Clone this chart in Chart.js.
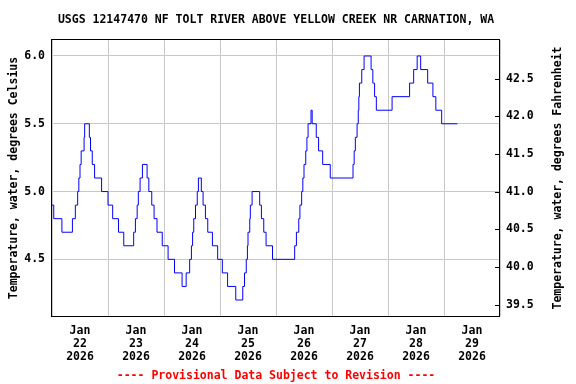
<!DOCTYPE html>
<html>
<head>
<meta charset="utf-8">
<script src="https://cdn.jsdelivr.net/npm/chart.js@4/dist/chart.umd.min.js"></script>
<style>
  body { margin: 0; background: #fff; }
</style>
</head>
<body>
<canvas id="chart" width="576" height="384"></canvas>
<script>
// Titles and labels
const chartTitle = "USGS 12147470 NF TOLT RIVER ABOVE YELLOW CREEK NR CARNATION, WA";
const leftTitle = "Temperature, water, degrees Celsius";
const rightTitle = "Temperature, water, degrees Fahrenheit";
const footer = "---- Provisional Data Subject to Revision ----";
const month = "Jan";
const year = "2026";
const dayLabels = ["22", "23", "24", "25", "26", "27", "28", "29"];

// Axis ticks
const celsiusTicks = [4.5, 5.0, 5.5, 6.0];
const fahrenheitTicks = [39.5, 40.0, 40.5, 41.0, 41.5, 42.0, 42.5];
const celsiusMin = 4.082;
const celsiusMax = 6.118;

// Series: hours since Jan 22 00:00 where the reading changes, and the new reading (deg C)
const hours = [
  0, 0.75, 4.25, 8.75, 10, 11, 11.5, 12, 12.5, 13.75, 14, 16, 16.5, 17.25, 18.25, 21.25,
  24, 26, 28.5, 30.75, 35, 35.75, 36.5, 37, 37.75, 38.75, 40.75, 41.5, 42.75, 43.75, 45, 47.25,
  49.75, 52.5, 55.75, 57.5, 59, 59.75, 60.25, 60.75, 61.5, 62.25, 62.75, 64, 64.75, 65.75, 66.75, 68.75,
  71, 73, 75.25, 78.75, 81.75, 82.5, 83.25, 83.75, 84, 84.75, 85, 85.75, 89, 89.75, 90.75, 91.75,
  94.5, 104, 104.75, 105.75, 106.25, 107, 107.5, 108, 108.75, 109.25, 109.75, 111, 111.5, 113.25, 114.25, 116,
  119.25, 129, 129.5, 130, 130.75, 131.25, 131.5, 131.75, 132.75, 133.75, 136.75, 137.5, 138.25, 139, 145.75, 153.25,
  155, 156.5, 158, 161, 163.25, 164.5, 167, 173.75
];
const tempC = [
  4.9, 4.8, 4.7, 4.8, 4.9, 5.0, 5.1, 5.2, 5.3, 5.4, 5.5, 5.4, 5.3, 5.2, 5.1, 5.0,
  4.9, 4.8, 4.7, 4.6, 4.7, 4.8, 4.9, 5.0, 5.1, 5.2, 5.1, 5.0, 4.9, 4.8, 4.7, 4.6,
  4.5, 4.4, 4.3, 4.4, 4.5, 4.6, 4.7, 4.8, 4.9, 5.0, 5.1, 5.0, 4.9, 4.8, 4.7, 4.6,
  4.5, 4.4, 4.3, 4.2, 4.3, 4.4, 4.5, 4.6, 4.7, 4.8, 4.9, 5.0, 4.9, 4.8, 4.7, 4.6,
  4.5, 4.6, 4.7, 4.8, 4.9, 5.0, 5.1, 5.2, 5.3, 5.4, 5.5, 5.6, 5.5, 5.4, 5.3, 5.2,
  5.1, 5.2, 5.3, 5.4, 5.5, 5.6, 5.7, 5.8, 5.9, 6.0, 5.9, 5.8, 5.7, 5.6, 5.7, 5.8,
  5.9, 6.0, 5.9, 5.8, 5.7, 5.6, 5.5, 5.5
];

const FONT = "'DejaVu Sans Mono', monospace";
const fontBold = { family: FONT, size: 11.5, weight: 'bold' };
const gridColor = '#c8c8c8';

// Black frame, inward ticks on the right axis, right axis title
const framePlugin = {
  id: 'frame',
  afterDraw(chart) {
    const { ctx, chartArea: a } = chart;
    const yF = chart.scales.yF;
    ctx.save();
    ctx.strokeStyle = '#000';
    ctx.lineWidth = 1;
    ctx.strokeRect(a.left - 0.5, a.top - 0.5, a.right - a.left, a.bottom - a.top + 1);
    ctx.beginPath();
    yF.ticks.forEach(t => {
      const y = Math.round(yF.getPixelForValue(t.value)) + 0.5;
      ctx.moveTo(a.right - 5, y);
      ctx.lineTo(a.right, y);
    });
    ctx.stroke();
    ctx.translate(558, (a.top + a.bottom) / 2);
    ctx.rotate(-Math.PI / 2);
    ctx.font = 'bold 11.5px ' + FONT;
    ctx.textAlign = 'center';
    ctx.textBaseline = 'middle';
    ctx.fillStyle = '#000';
    ctx.fillText(rightTitle, 0, 0);
    ctx.restore();
  }
};

const ctx = document.getElementById("chart").getContext("2d");

new Chart(ctx, {
  type: 'line',
  data: {
    datasets: [{
      data: hours.map((h, i) => ({ x: h, y: tempC[i] })),
      stepped: true,
      borderColor: '#0000ff',
      borderWidth: 1,
      pointRadius: 0,
      fill: false
    }]
  },
  options: {
    responsive: false,
    animation: false,
    layout: { padding: 0 },
    plugins: {
      legend: { display: false },
      tooltip: { enabled: false },
      title: {
        display: true, fullSize: false, text: chartTitle, color: '#000', font: fontBold,
        padding: { top: 13, bottom: 13.2 }
      },
      subtitle: {
        display: true, fullSize: false, position: 'bottom', text: footer, color: '#ff0000', font: fontBold,
        padding: { top: 3, bottom: 1 }
      }
    },
    scales: {
      x: {
        type: 'linear',
        min: 0,
        max: dayLabels.length * 24,
        afterBuildTicks: s => {
          s.ticks = [];
          for (let i = 0; i <= dayLabels.length * 2; i++) s.ticks.push({ value: i * 12 });
        },
        afterFit: s => { s.height = 50.2; },
        grid: {
          color: c => (c.tick && c.tick.value % 24 === 0) ? gridColor : 'rgba(0,0,0,0)',
          drawTicks: false
        },
        border: { display: false },
        ticks: {
          autoSkip: false, maxRotation: 0, padding: 9, color: '#000',
          font: { ...fontBold, lineHeight: '13px' },
          callback: v => v % 24 === 12 ? [month, dayLabels[(v - 12) / 24], year] : ''
        }
      },
      y: {
        position: 'left',
        min: celsiusMin,
        max: celsiusMax,
        afterBuildTicks: s => { s.ticks = celsiusTicks.map(v => ({ value: v })); },
        afterFit: s => { s.width = 52; },
        grid: { color: gridColor, drawTicks: false },
        border: { display: false },
        ticks: { padding: 7, color: '#000', font: fontBold, callback: v => v.toFixed(1) },
        title: { display: true, text: leftTitle, color: '#000', font: fontBold, padding: { top: 7, bottom: 0 } }
      },
      yF: {
        position: 'right',
        min: celsiusMin * 1.8 + 32,
        max: celsiusMax * 1.8 + 32,
        afterBuildTicks: s => { s.ticks = fahrenheitTicks.map(v => ({ value: v })); },
        afterFit: s => { s.width = 76; },
        grid: { drawOnChartArea: false, drawTicks: false },
        border: { display: false },
        ticks: { padding: 6, color: '#000', font: fontBold, callback: v => v.toFixed(1) }
      }
    }
  },
  plugins: [framePlugin]
});
</script>
</body>
</html>
